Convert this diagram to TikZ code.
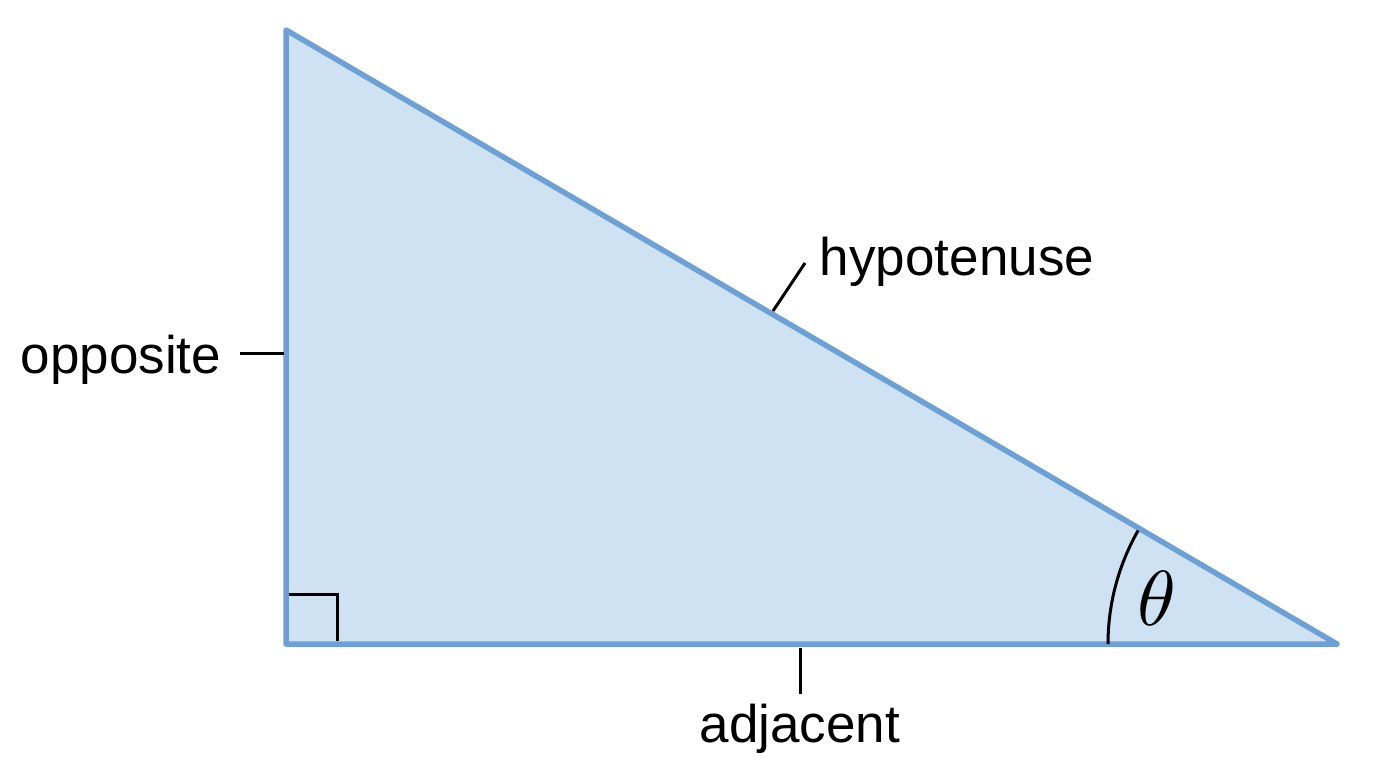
\documentclass[tikz,border=0pt]{standalone}
\usepackage{fontspec}
\setmainfont{Liberation Sans}
\definecolor{triline}{HTML}{6FA0D3}
\definecolor{trifill}{HTML}{CFE2F3}
\begin{document}
\begin{tikzpicture}[x=1pt,y=-1pt,
  side/.style={draw=triline,fill=trifill,line width=5.5pt,line join=round,line cap=round},
  tick/.style={draw=black,line width=3pt},
  lbl/.style={font=\fontsize{53}{60}\selectfont,inner sep=0pt,anchor=base}]
\useasboundingbox (0,0) rectangle (1376,768);
\coordinate (A) at (286,30);
\coordinate (B) at (286,644);
\coordinate (C) at (1337,644);
\path[side] (A) -- (B) -- (C) -- cycle;
% right angle mark
\coordinate (r1) at (289,594);
\coordinate (r2) at (337,594);
\coordinate (r3) at (337,641);
\draw[tick,line join=miter] (r1) -- (r2) -- (r3);
% angle arc
\draw[tick] (C) ++(180:229) arc[start angle=180,end angle=209.7,radius=229];
\node[inner sep=0pt] (theta) at (1157,598) {\scalebox{7.8}{$\theta$}};
% labels
\node[lbl] (hyp) at (957,275) {hypotenuse};
\node[lbl] (opp) at (121,373) {opposite};
\node[lbl] (adj) at (800,742) {adjacent};
% ticks
\coordinate (h1) at (773,311);
\coordinate (h2) at (805,263);
\draw[tick] (h1) -- (h2);
\coordinate (o1) at (240,353);
\coordinate (o2) at (284,353);
\draw[tick] (o1) -- (o2);
\coordinate (a1) at (800,648);
\coordinate (a2) at (800,694);
\draw[tick] (a1) -- (a2);
\end{tikzpicture}
\end{document}
